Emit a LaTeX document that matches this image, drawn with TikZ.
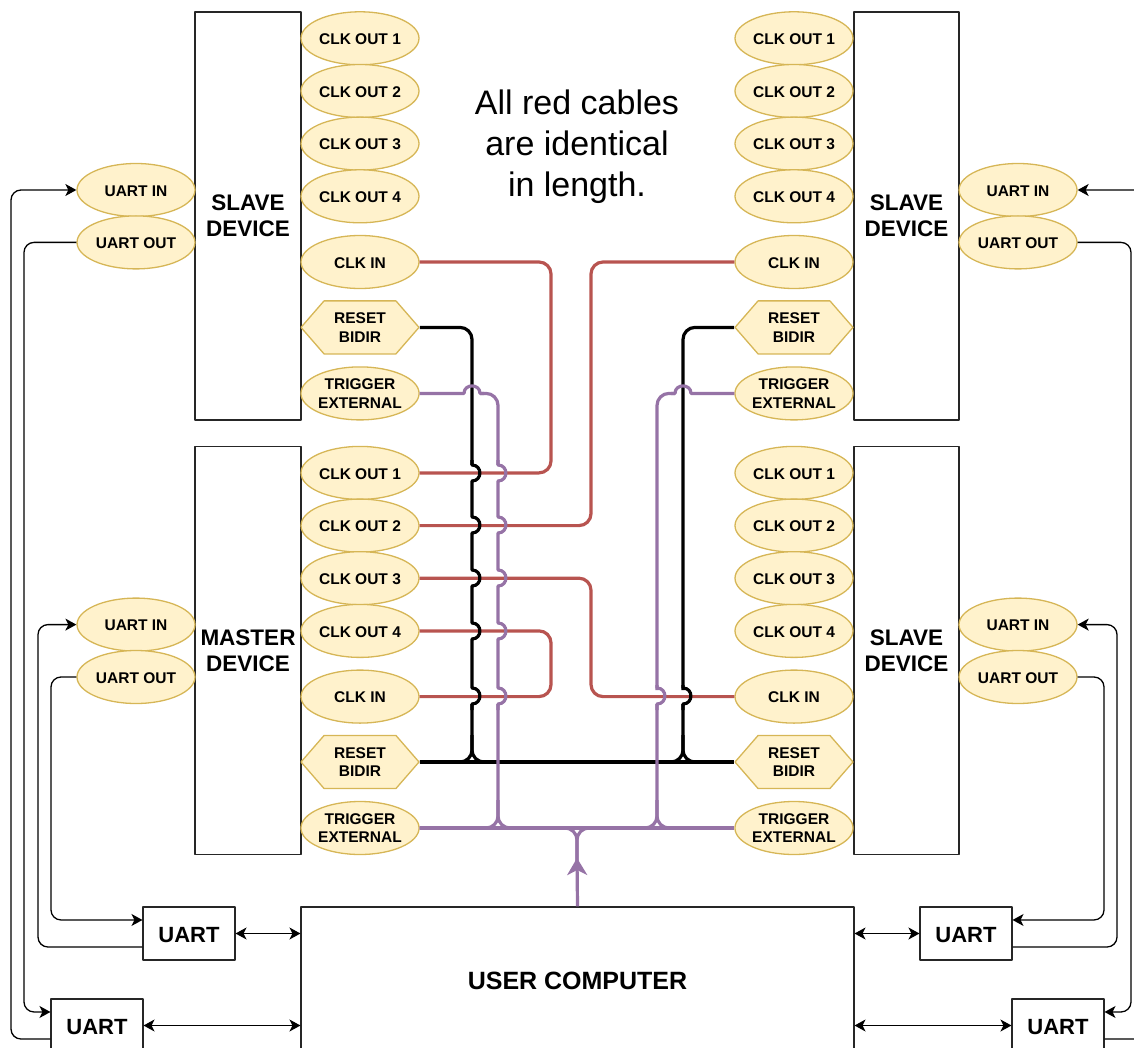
\documentclass[tikz,border=0pt]{standalone}
\usepackage{fontspec}
\setmainfont{Liberation Sans}
\usetikzlibrary{calc,arrows.meta,positioning,shapes.geometric,shapes.symbols}

\definecolor{portfill}{HTML}{FFF2CC}
\definecolor{portline}{HTML}{D6B656}
\definecolor{cablered}{HTML}{B85450}
\definecolor{cablepurple}{HTML}{9673A6}

\tikzset{
  device/.style={draw=black!85,line width=1.1pt,minimum height=408pt,inner sep=0pt,align=center,font=\fontsize{22.5}{26}\selectfont\bfseries},
  port/.style={ellipse,draw=portline,fill=portfill,line width=1.3pt,minimum width=118pt,minimum height=53pt,inner sep=0pt,align=center,font=\fontsize{15.5}{18.5}\selectfont\bfseries},
  portline1/.style={port,text height=12.7pt},
  hexport/.style={port,signal,signal to=west and east,signal pointer angle=98},
  uartbox/.style={draw=black!85,line width=1.1pt,minimum width=92pt,minimum height=53pt,inner sep=0pt,text height=18pt,font=\fontsize{22}{26}\selectfont\bfseries},
  computer/.style={draw=black!85,line width=1.1pt,minimum width=553pt,minimum height=148pt,inner sep=0pt,font=\fontsize{25}{28}\selectfont\bfseries},
  wire/.style={line width=1.3pt,rounded corners=10pt},
  tip/.style={-{Stealth[length=11pt,width=12pt,inset=3pt]}},
  bothtip/.style={{Stealth[length=11pt,width=12pt,inset=3pt]}-{Stealth[length=11pt,width=12pt,inset=3pt]}},
  cable/.style={line width=3.2pt},
  cablebend/.style={cable,rounded corners=12pt},
}
% jumps over a crossing cable
\newcommand{\hopright}[2]{-- (#1,#2-8) .. controls (#1+10.5,#2-8) and (#1+10.5,#2+8) .. (#1,#2+8)}
\newcommand{\hopup}[3]{-- (#1,#3) .. controls (#1,#3-10) and (#2,#3-10) .. (#2,#3)}

\begin{document}
\begin{tikzpicture}[x=1pt,y=-1pt,line join=round]
\clip (0,0) rectangle (1134,1048);
% devices and their ports
\foreach \dev/\name/\bx/\bw/\px/\ux/\oy in {sl/{SLAVE\\DEVICE}/248/106/360/136/0,
    ma/{MASTER\\DEVICE}/248/106/360/136/434.6,
    sr/{SLAVE\\DEVICE}/906.5/105/794/1018/0,
    sb/{SLAVE\\DEVICE}/906.5/105/794/1018/434.6}{
  \node[device,minimum width=\bw pt] (\dev) at (\bx,\oy+216) {\name};
  \foreach \i/\y in {1/38.3,2/91,3/143.6,4/196.3}
    \node[portline1] (\dev-clk\i) at (\px,\oy+\y) {CLK OUT \i};
  \node[portline1] (\dev-clkin) at (\px,\oy+262) {CLK IN};
  \node[hexport] (\dev-reset) at (\px,\oy+327.4) {RESET\\BIDIR};
  \node[port] (\dev-trig) at (\px,\oy+393.4) {TRIGGER\\EXTERNAL};
  \node[portline1] (\dev-uin) at (\ux,\oy+190) {UART IN};
  \node[portline1] (\dev-uout) at (\ux,\oy+242.4) {UART OUT};
}
\node[computer] (pc) at (577.5,981) {USER COMPUTER};
\node[uartbox] (ua) at (189,933.5) {UART};
\node[uartbox] (ub) at (97,1025.5) {UART};
\node[uartbox] (uc) at (966,933.5) {UART};
\node[uartbox] (ud) at (1058,1025.5) {UART};
\node[align=center,font=\fontsize{34}{41}\selectfont] (note) at (577,146.5) {All red cables\\are identical\\in length.};
% pins on the uart boxes
\foreach \u in {ua,ub}{
  \coordinate (\u-in) at ($(\u.north west)!.25!(\u.south west)$);
  \coordinate (\u-out) at ($(\u.north west)!.75!(\u.south west)$);
}
\foreach \u in {uc,ud}{
  \coordinate (\u-in) at ($(\u.north east)!.25!(\u.south east)$);
  \coordinate (\u-out) at ($(\u.north east)!.75!(\u.south east)$);
}
% uart wiring
\draw[wire,tip] (sl-uout.west) -| (24,600) |- (ub-in);
\draw[wire,tip] (ub-out) -| (11,600) |- (sl-uin.west);
\draw[wire,tip] (ma-uout.west) -| (51,800) |- (ua-in);
\draw[wire,tip] (ua-out) -| (38,800) |- (ma-uin.west);
\draw[wire,tip] (sr-uout.east) -| (1131,600) |- (ud-in);
\draw[wire,tip] (ud-out) -| (1146,600) |- (sr-uin.east);
\draw[wire,tip] (sb-uout.east) -| (1104,800) |- (uc-in);
\draw[wire,tip] (uc-out) -| (1117,800) |- (sb-uin.east);
\draw[wire,bothtip] (ua.east) -- (ua.east -| pc.west);
\draw[wire,bothtip] (ub.east) -- (ub.east -| pc.west);
\draw[wire,bothtip] (uc.west) -- (uc.west -| pc.east);
\draw[wire,bothtip] (ud.west) -- (ud.west -| pc.east);
% red cables
\draw[cablebend,cablered] (sl-clkin.east) -| (551,400) |- (ma-clk1.east);
\draw[cablebend,cablered] (sr-clkin.west) -| (591,400) |- (ma-clk2.east);
\draw[cablebend,cablered] (ma-clk3.east) -| (591,640) |- (sb-clkin.west);
\draw[cablebend,cablered] (ma-clk4.east) -| (551,660) |- (ma-clkin.east);
% reset lines
\draw[cable] (ma-reset.east) -- (sb-reset.west);
\draw[cablebend] (sl-reset.east) -| (472,465);
\draw[cable] (472,460) \hopright{472}{473} \hopright{472}{525} \hopright{472}{578} \hopright{472}{631} \hopright{472}{696} -- (472,710);
\draw[cablebend] (472,704) |- (ma-reset.east);
\draw[cablebend] (472,735) |- (495,762);
\draw[cablebend] (sr-reset.west) -| (683,690);
\draw[cable] (683,685) \hopright{683}{696} -- (683,710);
\draw[cablebend] (683,704) |- (660,762);
\draw[cablebend] (683,735) |- (706,762);
% trigger lines
\draw[cable,cablepurple] (ma-trig.east) -- (sb-trig.west);
\draw[cable,cablepurple] (sl-trig.east) \hopup{464}{480}{393.4} -- (484,393.4);
\draw[cablebend,cablepurple] (480,393.4) -| (498,465);
\draw[cable,cablepurple] (498,460) \hopright{498}{473} \hopright{498}{525} \hopright{498}{578} \hopright{498}{631} \hopright{498}{696} -- (498,710);
\draw[cablebend,cablepurple] (498,704) |- (ma-trig.east);
\draw[cablebend,cablepurple] (498,800) |- (521,828);
\draw[cable,cablepurple] (sr-trig.west) \hopup{691}{675}{393.4} -- (671,393.4);
\draw[cablebend,cablepurple] (675,393.4) -| (657,690);
\draw[cable,cablepurple] (657,685) \hopright{657}{696} -- (657,710);
\draw[cablebend,cablepurple] (657,704) |- (ma-trig.east);
\draw[cablebend,cablepurple] (657,800) |- (680,828);
\draw[cable,cablepurple,-{Stealth[length=17pt,width=20pt,inset=5pt]}] (pc.north) -- (577,858);
\draw[cablebend,cablepurple] (577,862) |- (555,828);
\draw[cablebend,cablepurple] (577,862) |- (599,828);
\end{tikzpicture}
\end{document}
